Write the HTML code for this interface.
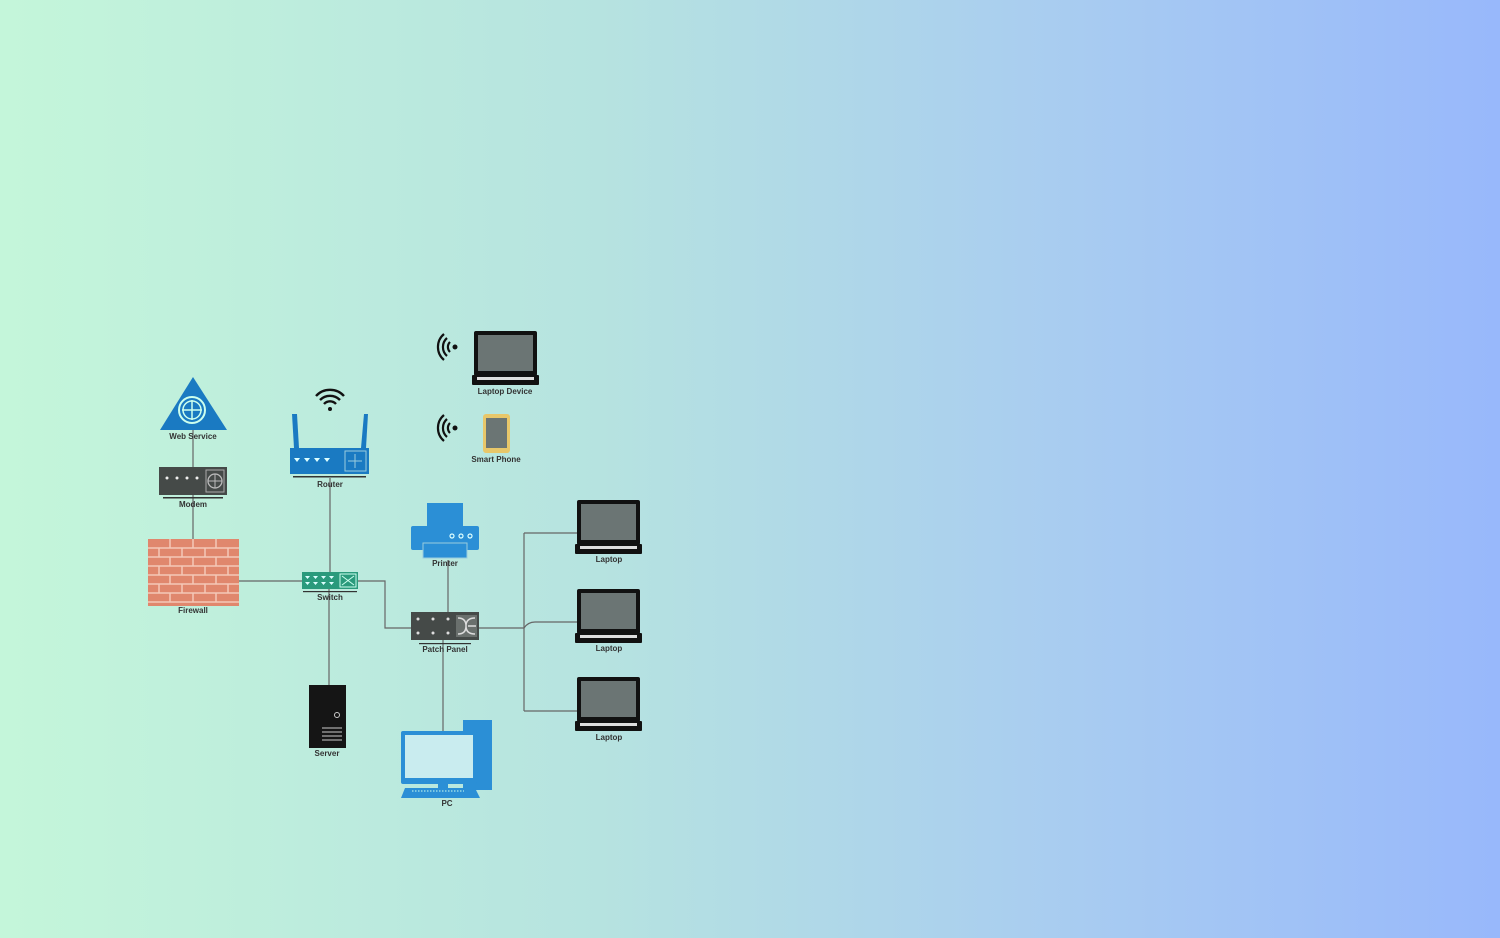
<!DOCTYPE html>
<html><head><meta charset="utf-8"><style>
html,body{margin:0;padding:0}
body{width:1500px;height:938px;background:linear-gradient(90deg,#c4f6da 0%,#b6e3e0 40%,#a9cdf0 70%,#98b8fb 100%);overflow:hidden}
svg{position:absolute;left:0;top:0}
text{font-family:"Liberation Sans",sans-serif;font-size:8px;font-weight:bold;fill:#333;text-anchor:middle}
</style></head><body>
<svg width="1500" height="938" viewBox="0 0 1500 938">
<defs>
<g id="lap">
<rect x="2" y="0" width="63" height="45" rx="2" fill="#111"/>
<rect x="6" y="4" width="55" height="36" fill="#6b7574"/>
<rect x="0" y="44" width="67" height="10" rx="1" fill="#111"/>
<rect x="5" y="46" width="57" height="3" fill="#ddd"/>
</g>
<g id="wave" fill="none" stroke="#111" stroke-width="2.2">
<circle cx="0" cy="0" r="2.5" fill="#111" stroke="none"/>
<path d="M-5,-5 A7,7 0 0 0 -5,5"/>
<path d="M-8,-9 A12,12 0 0 0 -8,9"/>
<path d="M-11,-13 A17,17 0 0 0 -11,13"/>
</g>
</defs>
<g stroke="#666" stroke-width="1.2" fill="none">
<path d="M193,420 V540"/>
<path d="M239,581 H302"/>
<path d="M330,478 V572"/>
<path d="M329,589 V685"/>
<path d="M358,581 H385 V628 H411"/>
<path d="M448,560 V612"/>
<path d="M443,640 V731"/>
<path d="M479,628 H524"/>
<path d="M524,533 V711"/>
<path d="M524,533 H578"/>
<path d="M524,628 Q528,622 535,622 H578"/>
<path d="M524,711 H578"/>
</g>
<!-- Web service -->
<polygon points="193,377 160,430 227,430" fill="#1a7ac2"/>
<circle cx="192" cy="410" r="13" fill="#1a7ac2" stroke="#cfe" stroke-width="2"/>
<circle cx="192" cy="410" r="9" fill="none" stroke="#cfe" stroke-width="1.5"/>
<path d="M192,400V420M182,410H202" stroke="#cfe" stroke-width="1.5"/>
<text x="193" y="439">Web Service</text>
<!-- Modem -->
<rect x="159" y="467" width="68" height="28" fill="#454a48"/>
<g fill="#eee"><circle cx="167" cy="478" r="1.5"/><circle cx="177" cy="478" r="1.5"/><circle cx="187" cy="478" r="1.5"/><circle cx="197" cy="478" r="1.5"/></g>
<rect x="206" y="470" width="18" height="22" fill="none" stroke="#aaa"/>
<circle cx="215" cy="481" r="7" fill="none" stroke="#bbb" stroke-width="1.3"/>
<path d="M215,474V488M208,481H222" stroke="#bbb"/>
<rect x="163" y="497" width="60" height="1.5" fill="#333"/>
<text x="193" y="507">Modem</text>
<!-- Firewall -->
<rect x="148" y="539" width="91" height="67" fill="#e0876d"/>
<g stroke="#f4c9b8" stroke-width="1.5">
<path d="M148,548H239M148,557H239M148,566H239M148,575H239M148,584H239M148,593H239M148,602H239"/>
</g>
<g stroke="#f4c9b8" stroke-width="1.5">
<path d="M170,539v9M193,539v9M216,539v9M159,548v9M182,548v9M205,548v9M228,548v9M170,557v9M193,557v9M216,557v9M159,566v9M182,566v9M205,566v9M228,566v9M170,575v9M193,575v9M216,575v9M159,584v9M182,584v9M205,584v9M228,584v9M170,593v9M193,593v9M216,593v9"/>
</g>
<text x="193" y="613">Firewall</text>
<!-- Router -->
<g fill="none" stroke="#111" stroke-width="2.4"><circle cx="330" cy="409" r="2" fill="#111" stroke="none"/>
<path d="M324,404 A8,8 0 0 1 336,404"/><path d="M320,400 A14,14 0 0 1 340,400"/><path d="M316,396 A19,19 0 0 1 344,396"/></g>
<path d="M294,448 L292,414 L297,414 L299,448Z" fill="#1a7ac2"/>
<path d="M361,448 L364,414 L368,414 L366,448Z" fill="#1a7ac2"/>
<rect x="290" y="448" width="79" height="26" fill="#1a7ac2"/>
<g fill="#dff"><path d="M294,458h6l-3,4z M304,458h6l-3,4z M314,458h6l-3,4z M324,458h6l-3,4z"/></g>
<rect x="345" y="451" width="21" height="20" fill="none" stroke="#9cd" />
<path d="M355,454v14M348,461h14" stroke="#9cd"/>
<rect x="293" y="476" width="73" height="1.5" fill="#333"/>
<text x="330" y="487">Router</text>
<!-- Switch -->
<rect x="302" y="572" width="56" height="17" fill="#2a9a7c"/>
<g fill="#dff"><path d="M305,576h5l-2.5,3z M313,576h5l-2.5,3z M321,576h5l-2.5,3z M329,576h5l-2.5,3z M305,582h5l-2.5,3z M313,582h5l-2.5,3z M321,582h5l-2.5,3z M329,582h5l-2.5,3z"/></g>
<rect x="340" y="574" width="16" height="13" fill="none" stroke="#cfe"/>
<path d="M342,576L354,585M354,576L342,585" stroke="#cfe"/>
<rect x="303" y="591" width="54" height="1.2" fill="#333"/>
<text x="330" y="600">Switch</text>
<!-- Server -->
<rect x="309" y="685" width="37" height="63" fill="#151515"/>
<circle cx="337" cy="715" r="2.5" fill="none" stroke="#ccc"/>
<path d="M322,728h20M322,732h20M322,736h20M322,740h20" stroke="#ccc"/>
<text x="327" y="756">Server</text>
<!-- Printer -->
<rect x="427" y="503" width="36" height="24" fill="#2b8fd6"/>
<rect x="411" y="526" width="68" height="24" rx="2" fill="#2b8fd6"/>
<g fill="none" stroke="#dff" stroke-width="1.2"><circle cx="452" cy="536" r="2"/><circle cx="461" cy="536" r="2"/><circle cx="470" cy="536" r="2"/></g>
<rect x="423" y="543" width="44" height="15" fill="#2b8fd6" stroke="#9cd"/>
<text x="445" y="566">Printer</text>
<!-- Patch panel -->
<rect x="411" y="612" width="68" height="28" fill="#454a48"/>
<g fill="#ddd"><circle cx="418" cy="619" r="1.5"/><circle cx="433" cy="619" r="1.5"/><circle cx="448" cy="619" r="1.5"/><circle cx="418" cy="633" r="1.5"/><circle cx="433" cy="633" r="1.5"/><circle cx="448" cy="633" r="1.5"/></g>
<rect x="456" y="615" width="21" height="22" fill="#6a706d"/>
<path d="M458,618 Q466,618 466,626 Q466,634 475,634 M458,634 Q466,634 466,626 Q466,618 475,618 M468,626h8" fill="none" stroke="#ddd" stroke-width="1.5"/>
<rect x="419" y="643" width="52" height="1.2" fill="#333"/>
<text x="445" y="652">Patch Panel</text>
<!-- PC -->
<rect x="463" y="720" width="29" height="70" fill="#2b8fd6"/>
<rect x="401" y="731" width="76" height="53" rx="2" fill="#2b8fd6"/>
<rect x="405" y="735" width="68" height="43" fill="#c9ecef"/>
<rect x="438" y="784" width="10" height="4" fill="#2b8fd6"/>
<path d="M405,788 H475 L480,798 H401Z" fill="#2b8fd6"/>
<path d="M412,791h52" stroke="#cfe" stroke-dasharray="1.5 1.5"/>
<text x="447" y="806">PC</text>
<!-- Laptops -->
<use href="#lap" x="575" y="500"/><text x="609" y="562">Laptop</text>
<use href="#lap" x="575" y="589"/><text x="609" y="651">Laptop</text>
<use href="#lap" x="575" y="677"/><text x="609" y="740">Laptop</text>
<use href="#lap" x="472" y="331"/><text x="505" y="394">Laptop Device</text>
<!-- Smart phone -->
<rect x="483" y="414" width="27" height="39" rx="3" fill="#e8c76a"/>
<rect x="486" y="418" width="21" height="30" fill="#6b7574"/>
<text x="496" y="462">Smart Phone</text>
<use href="#wave" x="455" y="347"/>
<use href="#wave" x="455" y="428"/>
</svg>
</body></html>
